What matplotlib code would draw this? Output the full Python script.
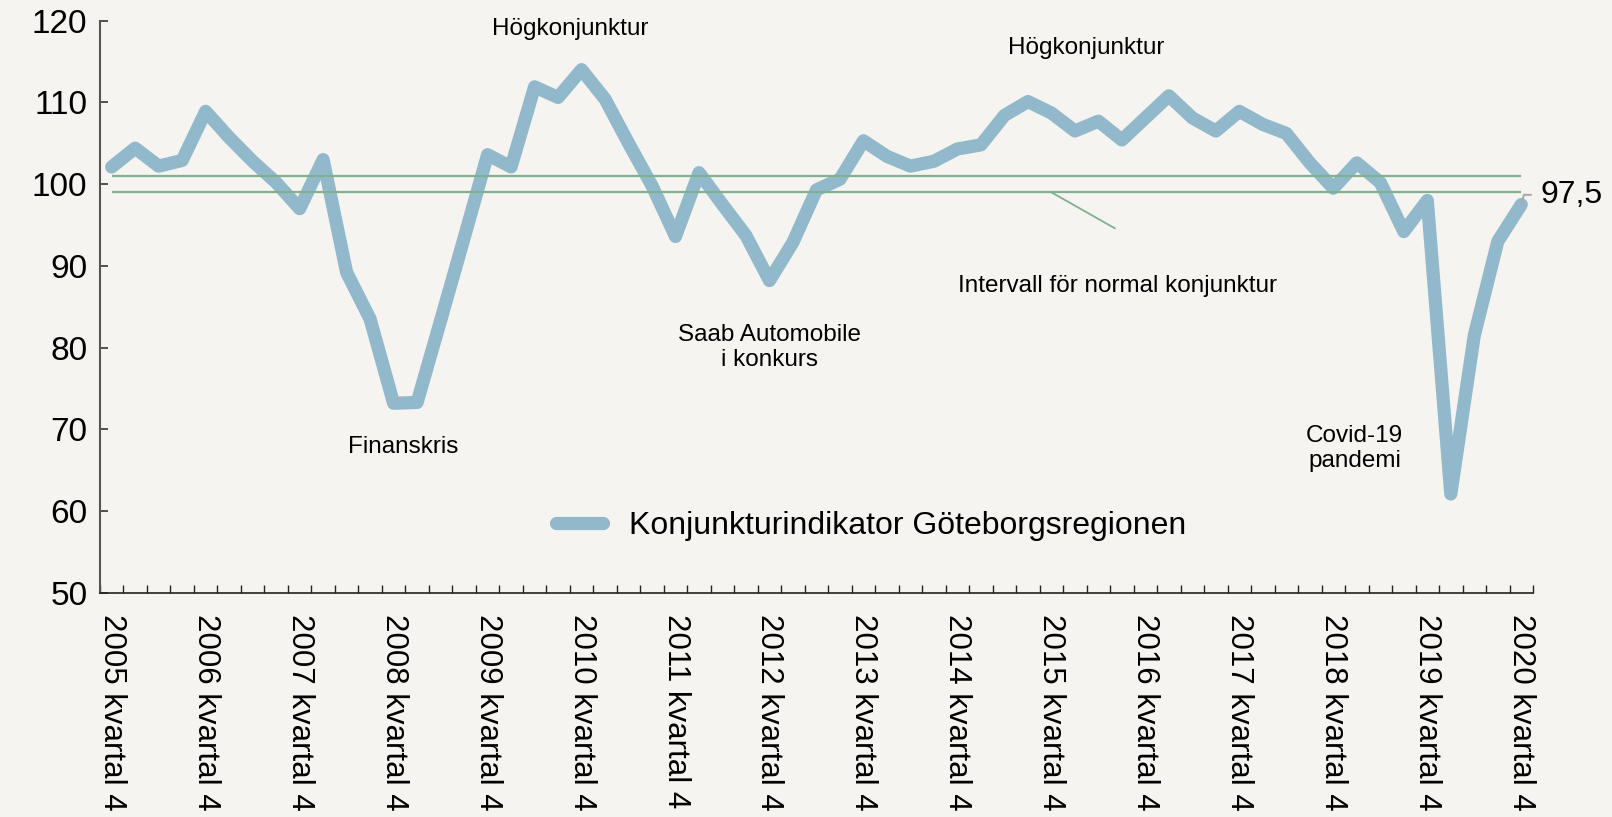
import matplotlib
matplotlib.use("Agg")
import matplotlib.pyplot as plt
from matplotlib.ticker import FixedLocator

plt.rcParams['font.family'] = ['Liberation Sans', 'DejaVu Sans']

# Konjunkturindikator, kvartal 4 2005 - kvartal 4 2020
years = list(range(2005, 2021))
values = [102.1, 104.4, 102.2, 102.9, 108.9, 105.7, 102.8, 100.2, 97.0, 103.0,
          89.2, 83.5, 73.2, 73.3, 83.3, 93.4, 103.6, 102.1, 111.9, 110.6,
          114.0, 110.4, 105.0, 99.8, 93.6, 101.4, 97.5, 93.7, 88.2, 92.9,
          99.3, 100.6, 105.3, 103.4, 102.2, 102.8, 104.3, 104.8, 108.4, 110.1,
          108.7, 106.5, 107.7, 105.4, 108.1, 110.8, 108.1, 106.5, 108.9, 107.3,
          106.2, 102.6, 99.5, 102.6, 100.2, 94.2, 98.0, 62.1, 81.5, 93.0, 97.5]
tick_labels = [f"{y} kvartal 4" for y in years]
normal_low, normal_high = 99, 101
last_label = "97,5"

bg = '#f5f4f0'
line_col = '#92b8cb'
green = '#7fb090'

fig = plt.figure(figsize=(16.12, 8.17), dpi=100, facecolor=bg)
ax = fig.add_axes([0.062, 0.2742, 0.889, 0.7006], facecolor=bg)

x = list(range(len(values)))
ax.plot(x, values, color=line_col, lw=9.5, solid_capstyle='round',
        solid_joinstyle='round', label='Konjunkturindikator Göteborgsregionen', zorder=3)

ax.hlines([normal_high, normal_low], x[0], x[-1], color=green, lw=1.6, zorder=4)

ax.set_xlim(-0.5, len(values) - 0.5)
ax.set_ylim(50, 120)
ax.set_yticks(range(50, 121, 10))

ax.set_xticks(x[::4])
ax.set_xticklabels(tick_labels, rotation=-90, ha='center', va='top', fontsize=22.5)
ax.xaxis.set_minor_locator(FixedLocator([i - 0.5 for i in range(len(values) + 1)]))
ax.tick_params(axis='x', which='major', length=0, pad=15)
ax.tick_params(axis='x', which='minor', direction='in', length=6, width=1, color='#222222')
ax.tick_params(axis='y', direction='in', length=6, width=1.2, color='#333333',
               labelsize=24, pad=9)

for s in ['top', 'right']:
    ax.spines[s].set_visible(False)
ax.spines['left'].set_color('#555555')
ax.spines['left'].set_linewidth(1.5)
ax.spines['bottom'].set_color('#222222')
ax.spines['bottom'].set_linewidth(1.2)

fs = 17.5
ax.text(19.5, 119.0, "Högkonjunktur", ha='center', va='center', fontsize=fs)
ax.text(41.5, 116.7, "Högkonjunktur", ha='center', va='center', fontsize=fs)
ax.text(12.4, 67.8, "Finanskris", ha='center', va='center', fontsize=fs)
ax.text(28.0, 80.0, "Saab Automobile\ni konkurs", ha='center', va='center', fontsize=fs)
ax.text(42.8, 87.5, "Intervall för normal konjunktur", ha='center', va='center', fontsize=fs)
ax.text(52.9, 67.7, "Covid-19\npandemi", ha='center', va='center', fontsize=fs)
ax.plot([40.0, 42.7], [normal_low, 94.6], color=green, lw=1.3, zorder=4)

ax.annotate(last_label, xy=(x[-1], values[-1]), xytext=(14, 7), textcoords='offset points',
            ha='left', va='center', fontsize=23, annotation_clip=False,
            arrowprops=dict(arrowstyle='-', color='#aaaaaa', lw=1.5, shrinkA=5, shrinkB=0,
                            connectionstyle='angle,angleA=0,angleB=75'))

leg = ax.legend(loc='center', bbox_to_anchor=(0.538, 0.117), frameon=False,
                fontsize=23, handlelength=1.5, handletextpad=0.8)

fig.savefig('out.png', dpi=100, facecolor=bg)
